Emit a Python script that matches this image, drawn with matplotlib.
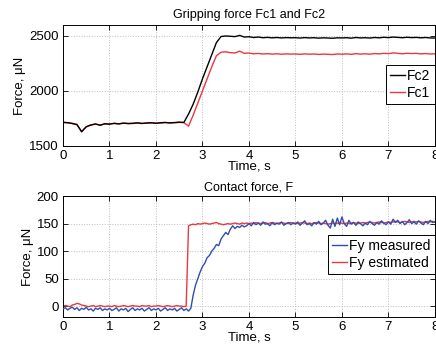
import numpy as np
import matplotlib
matplotlib.use("Agg")
import matplotlib.pyplot as plt

plt.rcParams['font.family'] = ['Liberation Sans', 'DejaVu Sans']

# ---- data: top panel (0.1 s grid) ----
t_top = np.linspace(0, 8, 81)
fc2 = [1715, 1712, 1705, 1695, 1630, 1675, 1690, 1700, 1688, 1702,
       1698, 1706, 1700, 1708, 1703, 1706, 1710, 1704, 1709, 1711,
       1706, 1711, 1714, 1709, 1713, 1716, 1714, 1790, 1880, 1990,
       2110, 2220, 2330, 2440, 2495, 2500, 2497, 2494, 2505, 2490,
       2493, 2486, 2490, 2484, 2487, 2483, 2486, 2482, 2485, 2483,
       2484, 2481, 2485, 2482, 2484, 2480, 2483, 2481, 2479, 2483,
       2482, 2484, 2480, 2486, 2482, 2484, 2481, 2486, 2483, 2488,
       2485, 2490, 2487, 2484, 2488, 2485, 2487, 2483, 2486, 2482,
       2481]
fc1 = [1713, 1710, 1703, 1693, 1628, 1673, 1692, 1698, 1690, 1700,
       1700, 1704, 1702, 1706, 1705, 1704, 1708, 1706, 1707, 1709,
       1708, 1709, 1712, 1711, 1711, 1714, 1712, 1680, 1780, 1890,
       2000, 2110, 2220, 2320, 2352, 2356, 2348, 2345, 2362, 2342,
       2345, 2338, 2341, 2336, 2339, 2335, 2338, 2334, 2337, 2335,
       2336, 2333, 2337, 2334, 2336, 2332, 2335, 2333, 2331, 2336,
       2334, 2337, 2333, 2339, 2335, 2338, 2334, 2340, 2337, 2342,
       2339, 2346, 2342, 2338, 2343, 2340, 2342, 2337, 2340, 2336,
       2338]

# ---- data: bottom panel (0.05 s grid) ----
t_bot = np.linspace(0, 8, 161)
fy_meas = [-5, -3, -7, -4, -2, -6, -3, -8, -4, -6, -2, -7, -5, -9, -4, -6, -3, -8, -5, -7,
           -4, -8, -6, -3, -9, -5, -7, -4, -10, -6, -3, -8, -5, -7, -4, -9, -6, -3, -8, -5,
           -7, -4, -9, -6, -3, -8, -5, -7, -4, -9, -6, -3, -8, -5, -9, -4, 20, 38, 50, 62,
           72, 78, 88, 92, 100, 105, 112, 110, 122, 128, 134, 130, 140, 146, 141, 145, 143, 147, 144, 146,
           150, 146, 152, 148, 151, 147, 153, 149, 150, 146, 152, 148, 151, 149, 153, 147, 150, 152, 148, 151,
           149, 153, 147, 151, 155, 148, 150, 146, 152, 149, 154, 148, 151, 156, 147, 142, 158, 145, 160, 148,
           162, 150, 145, 156, 149, 152, 147, 153, 150, 146, 151, 148, 154, 150, 147, 152, 149, 155, 151, 148,
           153, 149, 158, 152, 156, 150, 154, 148, 152, 157, 150, 153, 149, 155, 151, 148, 154, 150, 156, 152,
           153]
fy_est = [0, 1, 0, -1, 2, 3, 5, 4, 2, 1, 0, -1, 0, 1, -1, 0, 1, 0, -1, 0,
          0, -1, 1, 0, -1, 0, 1, 0, -1, 0, 1, 0, 0, -1, 1, 0, 0, 1, -1, 0,
          0, 1, 0, -1, 0, 1, 0, -1, 0, 1, 0, 0, -1, 0, 146, 148, 149, 148, 150, 149,
          150, 151, 150, 149, 150, 151, 152, 150, 149, 148, 149, 150, 149, 150, 151, 150, 149, 151, 150, 151,
          150, 151, 150, 152, 151, 150, 151, 152, 150, 151, 152, 151, 150, 151, 152, 151, 150, 151, 152, 151,
          151, 150, 151, 152, 151, 150, 151, 150, 151, 152, 151, 150, 151, 150, 149, 150, 151, 150, 151, 150,
          151, 150, 151, 150, 151, 152, 151, 150, 151, 152, 151, 152, 153, 152, 151, 152, 153, 152, 151, 152,
          153, 152, 153, 154, 153, 152, 153, 154, 153, 152, 153, 154, 153, 154, 153, 152, 153, 154, 153, 154,
          153]

xticks = [0, 1, 2, 3, 4, 5, 6, 7, 8]
yticks_top = [1500, 2000, 2500]
yticks_bot = [0, 50, 100, 150, 200]

RED = '#e8393f'
BLUE = '#2f4fb0'

fig = plt.figure(figsize=(4.36, 3.5), dpi=100)
ax1 = fig.add_axes([0.1445, 0.583, 0.853, 0.3457])
ax2 = fig.add_axes([0.1445, 0.094, 0.853, 0.3457])

def style(ax):
    ax.grid(True, linestyle=':', color='#bdbdbd', linewidth=0.7)
    ax.tick_params(direction='in', length=3.5, width=0.6, labelsize=9.5,
                   top=True, right=True, pad=3)
    for s in ax.spines.values():
        s.set_linewidth(0.7)
    ax.set_xlim(0, 8)
    ax.set_xticks(xticks)
    ax.set_xlabel('Time, s', fontsize=9.5, labelpad=-1)
    ax.set_ylabel('Force, μN', fontsize=9.5, labelpad=2)

ax1.plot(t_top, fc2, color='black', lw=1.0, label='Fc2', zorder=3)
ax1.plot(t_top, fc1, color=RED, lw=1.0, label='Fc1', zorder=2)
style(ax1)
ax1.set_ylim(1500, 2600)
ax1.set_yticks(yticks_top)
ax1.set_title('Gripping force Fc1 and Fc2', fontsize=9, pad=5)
leg1 = ax1.legend(loc='upper right', bbox_to_anchor=(1.0, 0.67), fontsize=10,
                  fancybox=False, edgecolor='black', framealpha=1,
                  handlelength=1.1, handletextpad=0.15, borderpad=0.3,
                  labelspacing=0.2, borderaxespad=0)
leg1.get_frame().set_linewidth(0.7)

ax2.plot(t_bot, fy_meas, color=BLUE, lw=1.0, label='Fy measured', zorder=3)
ax2.plot(t_bot, fy_est, color=RED, lw=1.0, label='Fy estimated', zorder=2)
style(ax2)
ax2.set_ylim(-20, 200)
ax2.set_yticks(yticks_bot)
ax2.set_title('Contact force, F', fontsize=9, pad=4)
leg2 = ax2.legend(loc='upper right', bbox_to_anchor=(1.0, 0.68), fontsize=10,
                  fancybox=False, edgecolor='black', framealpha=1,
                  handlelength=1.1, handletextpad=0.15, borderpad=0.3,
                  labelspacing=0.2, borderaxespad=0)
leg2.get_frame().set_linewidth(0.7)

fig.savefig('out.png', dpi=100)
